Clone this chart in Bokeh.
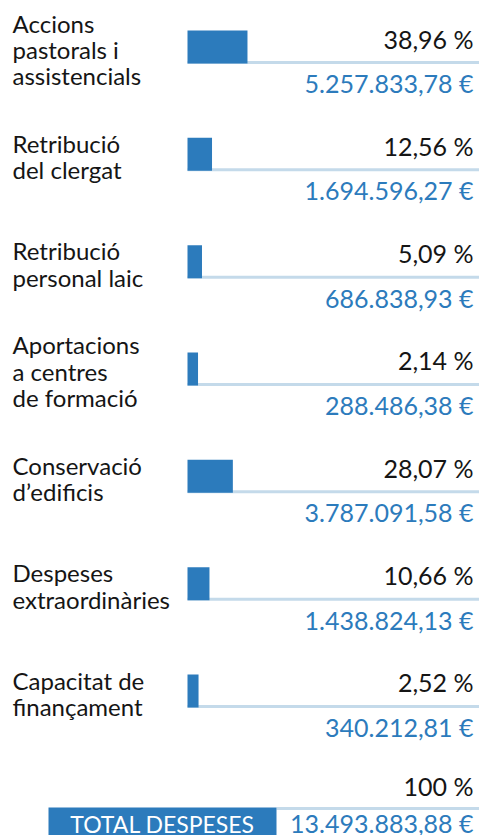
from bokeh.plotting import figure
from bokeh.models import Range1d
from bokeh.core.properties import value
from bokeh.embed import file_html
from bokeh.resources import INLINE

# ---------------- data ----------------
categories = [
    ["Accions", "pastorals i", "assistencials"],
    ["Retribució", "del clergat"],
    ["Retribució", "personal laic"],
    ["Aportacions", "a centres", "de formació"],
    ["Conservació", "d’edificis"],
    ["Despeses", "extraordinàries"],
    ["Capacitat de", "finançament"],
]
percentages = [38.96, 12.56, 5.09, 2.14, 28.07, 10.66, 2.52]
amounts = [5257833.78, 1694596.27, 686838.93, 288486.38, 3787091.58, 1438824.13, 340212.81]
total_label = "TOTAL DESPESES"
total_percent = 100
total_amount = 13493883.88

# ---------------- style / layout ----------------
W, H = 479, 835
FONT = "Lato"
BLUE = "#2C7BBC"
LIGHT = "#C4DAEA"
DARK = "#151515"
PX_PER_PCT = 1.343
BAR_LEFT_PX = 187
BAR_STUB = 5.7
ROW0_PX = 46.5
ROW_STEP = 107.33
BAR_H_PX = 33
LINE_H_PX = 26.3
TEXT_DY = -9          # compensation for baseline placement
LABEL_SIZE = "24px"
NUM_SIZE = "25px"


def fmt_pct(v):
    s = f"{v:g}" if float(v).is_integer() else f"{v:.2f}"
    return s.replace(".", ",") + " %"


def fmt_eur(v):
    s = f"{v:,.2f}"
    return s.replace(",", "X").replace(".", ",").replace("X", ".") + " €"


x_origin = -BAR_STUB - BAR_LEFT_PX / PX_PER_PCT


def xd(px):
    return x_origin + px / PX_PER_PCT


def yd(px):
    return (px - ROW0_PX) / ROW_STEP


def ty(px_rel):
    # y offset (data units) for text relative to a row center, in pixels
    return (px_rel + TEXT_DY) / ROW_STEP


p = figure(width=W, height=H, x_range=Range1d(xd(0), xd(W)), y_range=Range1d(yd(H), yd(0)),
           output_backend="svg", toolbar_location=None, min_border=0,
           x_axis_location=None, y_axis_location=None)
p.grid.visible = False
p.outline_line_color = None
p.background_fill_color = "white"
p.border_fill_color = "white"

n = len(percentages)
rows = list(range(n))
hb = BAR_H_PX / ROW_STEP / 2

# light rule lines
p.segment(x0=[-BAR_STUB] * n, x1=[xd(W)] * n,
          y0=[r + hb - 1 / ROW_STEP for r in rows], y1=[r + hb - 1 / ROW_STEP for r in rows],
          line_color=LIGHT, line_width=3)

# bars
p.quad(left=[-BAR_STUB] * n, right=percentages,
       top=[r - hb for r in rows], bottom=[r + hb for r in rows],
       fill_color=BLUE, line_color=None)

# percent labels
p.text(x=[xd(473)] * n, y=[r + ty(0.5) for r in rows], text=[fmt_pct(v) for v in percentages],
       text_align="right", text_baseline="alphabetic", text_font=value(FONT),
       text_font_size=NUM_SIZE, text_color=DARK)

# euro labels
p.text(x=[xd(473)] * n, y=[r + ty(45) for r in rows], text=[fmt_eur(v) for v in amounts],
       text_align="right", text_baseline="alphabetic", text_font=value(FONT),
       text_font_size=NUM_SIZE, text_color=BLUE)

# category labels (multi-line)
lx, ly, lt = [], [], []
for r, lines in enumerate(categories):
    m = len(lines)
    for k, t in enumerate(lines):
        lx.append(xd(12))
        ly.append(r + ty(3 + (k - (m - 1) / 2) * LINE_H_PX + 8.3))
        lt.append(t)
p.text(x=lx, y=ly, text=lt, text_align="left", text_baseline="alphabetic",
       text_font=value(FONT), text_font_size=LABEL_SIZE, text_color=DARK)

# total row
p.segment(x0=[xd(276)], x1=[xd(W)], y0=[yd(808)], y1=[yd(808)], line_color=LIGHT, line_width=3)
p.quad(left=[xd(48)], right=[xd(276)], top=[yd(807)], bottom=[yd(850)], fill_color=BLUE, line_color=None)
p.text(x=[xd(162)], y=[yd(832 + TEXT_DY)], text=[total_label], text_align="center", text_baseline="alphabetic",
       text_font=value(FONT), text_font_size="23px", text_color="white")
p.text(x=[xd(473)], y=[yd(794 + TEXT_DY)], text=[fmt_pct(total_percent)], text_align="right",
       text_baseline="alphabetic", text_font=value(FONT), text_font_size=NUM_SIZE, text_color=DARK)
p.text(x=[xd(473)], y=[yd(831 + TEXT_DY)], text=[fmt_eur(total_amount)], text_align="right",
       text_baseline="alphabetic", text_font=value(FONT), text_font_size=NUM_SIZE, text_color=BLUE)

open("out.html", "w").write(file_html(p, INLINE))
